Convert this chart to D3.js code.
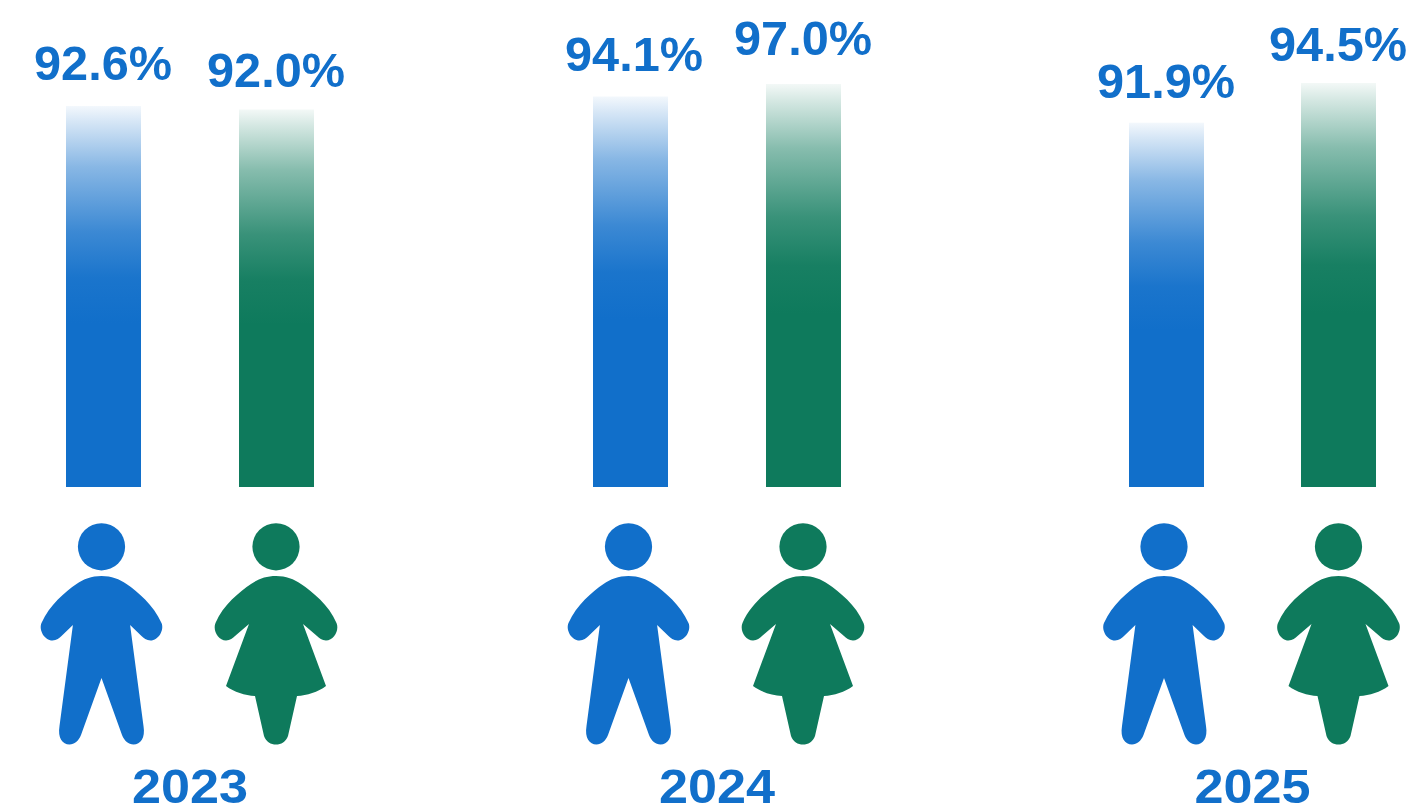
<!DOCTYPE html>
<html><head><meta charset="utf-8">
<script src="https://cdn.jsdelivr.net/npm/d3@7"></script>
<style>html,body{margin:0;background:#fff}svg{display:block}text{font-family:"Liberation Sans",Arial,sans-serif;font-weight:700;fill:#116fca}</style>
</head><body><svg id="chart" width="1416" height="804"></svg>
<script>
const years = ["2023", "2024", "2025"];
const boyRates = [92.6, 94.1, 91.9];
const girlRates = [92.0, 97.0, 94.5];
const boyColor = "#116fca", girlColor = "#0e7a5c";

// Every year is drawn on its own value scale, anchored on that year's two rates.
const yearDomains = [[92.0, 92.6], [94.1, 97.0], [91.9, 94.5]];
const yearRanges = [[109.5, 106], [96.5, 84], [122.7, 83]];
const yScales = years.map((_, i) => d3.scaleLinear().domain(yearDomains[i]).range(yearRanges[i]));
const baseline = 487, barWidth = 75;

const groupX = d3.scaleOrdinal().domain(years).range([66, 593, 1129]);
const groupGap = d3.scaleOrdinal().domain(years).range([173, 173, 172]);

// Label and figure placement relative to each bar, per year: [boy, girl].
const labelLift = [[26, 23], [26, 29], [25, 22]];
const labelShift = [[-0.5, -0.5], [3.5, -0.5], [-0.5, -0.5]];
const figureShift = [[-2, -0.5], [-2, -0.5], [-2.5, 0]];

const svg = d3.select("#chart");
const defs = svg.append("defs");

// Fade from near white at the top of a bar into its solid colour.
const fadeStops = [[0, 0.05], [0.04, 0.17], [0.16, 0.5], [0.33, 0.82], [0.45, 0.96], [0.57, 1], [1, 1]];
function addFade(id, color) {
  const g = defs.append("linearGradient").attr("id", id)
    .attr("x1", 0).attr("x2", 0).attr("y1", 0).attr("y2", 1);
  fadeStops.forEach(([o, a]) => g.append("stop").attr("offset", o)
    .attr("stop-color", color).attr("stop-opacity", a));
}
addFade("fadeBoy", boyColor);
addFade("fadeGirl", girlColor);

const boyBody = "M0,0 C-10,0 -18,3 -25,8 C-36,15.5 -52,29 -60,47 C-63,54 -57,64.5 -49,64.5 C-45,64.5 -42,62 -40,60 L-28.6,49 L-42,150 C-44,162 -39,168.5 -32,168.5 C-27,168.5 -23,165 -20.5,159 L0,102 L20.5,159 C23,165 27,168.5 32,168.5 C39,168.5 44,162 42,150 L28.6,49 L40,60 C42,62 45,64.5 49,64.5 C57,64.5 63,54 60,47 C52,29 36,15.5 25,8 C18,3 10,0 0,0 Z";
const girlBody = "M0,0 C-10,0 -18,3 -25,8 C-36,15.5 -53,29 -60.5,47 C-63.5,54 -58,64.5 -50,64.5 C-46,64.5 -43,62 -41,60 L-27,48 L-50,110 C-42,116 -31,119.5 -21,120 L-12,160 C-10,166 -5,168.5 0,168.5 C5,168.5 10,166 12,160 L21,120 C31,119.5 42,116 50,110 L27,48 L41,60 C43,62 46,64.5 50,64.5 C58,64.5 63.5,54 60.5,47 C53,29 36,15.5 25,8 C18,3 10,0 0,0 Z";

function drawPerson(g, cx, color, body) {
  g.append("circle").attr("cx", cx).attr("cy", 546.8).attr("r", 23.6).attr("fill", color);
  g.append("path").attr("d", body).attr("fill", color).attr("transform", `translate(${cx},576)`);
}

const groups = svg.selectAll("g.year").data(years).join("g").attr("class", "year");

groups.each(function (year, i) {
  const g = d3.select(this), y = yScales[i];
  const x0 = groupX(year), x1 = x0 + groupGap(year);
  [[x0, boyRates[i], "fadeBoy", boyColor, boyBody], [x1, girlRates[i], "fadeGirl", girlColor, girlBody]]
    .forEach(([x, v, fill, color, body], k) => {
      const mid = x + barWidth / 2;
      g.append("rect").attr("x", x).attr("y", y(v)).attr("width", barWidth)
        .attr("height", baseline - y(v)).attr("fill", `url(#${fill})`);
      g.append("text").attr("x", mid + labelShift[i][k]).attr("y", y(v) - labelLift[i][k])
        .attr("text-anchor", "middle").attr("font-size", 49)
        .attr("textLength", 138).attr("lengthAdjust", "spacingAndGlyphs")
        .text(d3.format(".1f")(v) + "%");
      drawPerson(g, mid + figureShift[i][k], color, body);
    });
  g.append("text").attr("x", (x0 + x1 + barWidth) / 2).attr("y", 803)
    .attr("text-anchor", "middle").attr("font-size", 49)
    .attr("textLength", 116).attr("lengthAdjust", "spacingAndGlyphs").text(year);
});
</script></body></html>
